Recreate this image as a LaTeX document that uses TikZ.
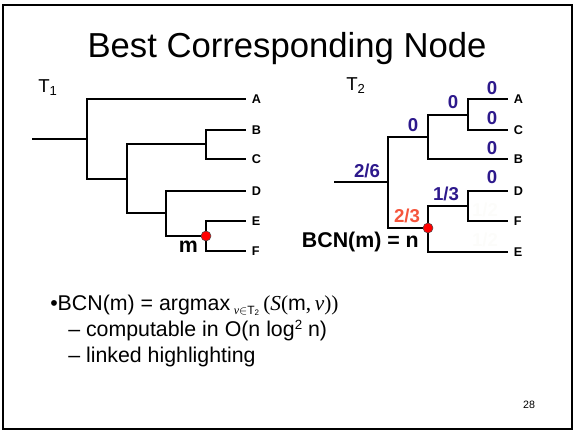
\documentclass[tikz,border=0pt]{standalone}
\usepackage{fontspec}
\setmainfont{Liberation Sans}
\newfontfamily\tmsfont{Liberation Serif}
\usetikzlibrary{positioning}
\definecolor{wtblue}{RGB}{45,25,140}
\definecolor{wtred}{RGB}{245,85,60}
\definecolor{wtfaint}{RGB}{252,252,250}
\tikzset{
  branch/.style={line width=1.5pt, line cap=rect},
  leaf/.style={font=\bfseries\fontsize{9.5}{11}\selectfont, anchor=west,
               inner xsep=5pt, inner ysep=1pt},
  wt/.style={font=\bfseries\fontsize{14}{16}\selectfont, text=wtblue,
             inner sep=1pt},
  wtbest/.style={wt, text=wtred},
  wtghost/.style={wt, text=wtfaint},
  dot/.style={circle, fill=red, draw=black!70, line width=0.4pt,
              minimum size=7.5pt, inner sep=0pt},
  treelabel/.style={font=\fontsize{14}{16}\selectfont, inner sep=0pt},
  bigbold/.style={font=\bfseries\fontsize{16}{18}\selectfont, inner sep=0pt},
  txt/.style={font=\fontsize{16}{19}\selectfont, inner sep=0pt,
              anchor=base west},
}

\begin{document}
\begin{tikzpicture}[x=0.75pt, y=-0.75pt]
  \useasboundingbox (0,0) rectangle (574,431);
  \draw[line width=1.5pt] (3,5) rectangle (572,429);

  % Title
  \node[font=\fontsize{26}{30}\selectfont, anchor=base, inner sep=0pt]
    (title) at (287,58) {Best Corresponding Node};

  % Tree T1
  \node[treelabel] (t1) at (48,88) {T\textsubscript{1}};
  \coordinate (s1) at (33,139);
  \coordinate (u1) at (87,139);
  \coordinate (u2) at (127,179);
  \coordinate (u3) at (206,144);
  \coordinate (u4) at (166,213);
  \coordinate (m) at (206,236);
  \node[leaf] (A1) at (245,99) {A};
  \node[leaf] (B1) at (245,130) {B};
  \node[leaf] (C1) at (245,159) {C};
  \node[leaf] (D1) at (245,191) {D};
  \node[leaf] (E1) at (245,221) {E};
  \node[leaf] (F1) at (245,251) {F};

  \draw[branch] (s1) -- (u1);
  \draw[branch] (u1) |- (A1.west);
  \draw[branch] (u1) |- (u2);
  \draw[branch] (u2) |- (u3);
  \draw[branch] (u2) |- (u4);
  \draw[branch] (u3) |- (B1.west);
  \draw[branch] (u3) |- (C1.west);
  \draw[branch] (u4) |- (D1.west);
  \draw[branch] (u4) |- (m);
  \draw[branch] (m) |- (E1.west);
  \draw[branch] (m) |- (F1.west);
  \node[dot] (mdot) at (m) {};
  \node[bigbold, anchor=east] (mlab) at (198,247) {m};

  % Tree T2
  \node[treelabel] (t2) at (356,86) {T\textsubscript{2}};
  \coordinate (s2) at (335,182);
  \coordinate (v1) at (388,182);
  \coordinate (v2) at (428,137);
  \coordinate (v3) at (468,115);
  \coordinate (n) at (428,228);
  \coordinate (v4) at (468,206);
  \node[leaf] (A2) at (507,99) {A};
  \node[leaf] (C2) at (507,130) {C};
  \node[leaf] (B2) at (507,159) {B};
  \node[leaf] (D2) at (507,191) {D};
  \node[leaf] (F2) at (507,221) {F};
  \node[leaf] (E2) at (507,252) {E};

  \draw[branch] (s2) -- (v1);
  \draw[branch] (v1) |- (v2);
  \draw[branch] (v1) |- (n);
  \draw[branch] (v2) |- (v3);
  \draw[branch] (v2) |- (B2.west);
  \draw[branch] (v3) |- (A2.west);
  \draw[branch] (v3) |- (C2.west);
  \draw[branch] (n) |- (v4);
  \draw[branch] (n) |- (E2.west);
  \draw[branch] (v4) |- (D2.west);
  \draw[branch] (v4) |- (F2.west);
  \node[dot] (ndot) at (n) {};

  % Scores
  \node[wt] (wA) at (492,88) {0};
  \node[wt] (wC) at (492,118) {0};
  \node[wt] (wB) at (492,148) {0};
  \node[wt] (wD) at (492,177) {0};
  \node[wt] (wv3) at (453,102) {0};
  \node[wt] (wv2) at (413,125) {0};
  \node[wt] (wroot) at (367,171) {2/6};
  \node[wt] (wv4) at (446,194) {1/3};
  \node[wtbest] (wn) at (407,216) {2/3};
  \node[wtghost] (wF) at (485,210) {1/2};
  \node[wtghost] (wE) at (485,240) {1/2};
  \node[bigbold, anchor=east] (bcn) at (419,242) {BCN(m) = n};

  % Bullets
  \node[txt] (l1) at (50,310) {\textbullet BCN(m) = argmax\,\raisebox{-3pt}{\fontsize{9}{9}\selectfont
    {\tmsfont\itshape ν}$\in$T\textsubscript{2}}\,{\tmsfont(\textit{S}(}m{\tmsfont,\,\textit{ν}))}};
  \node[txt] (l2) at (68,336) {– computable in O(n log\raisebox{5pt}{\fontsize{10}{10}\selectfont 2} n)};
  \node[txt] (l3) at (68,362) {– linked highlighting};
  \node[font=\fontsize{8}{9}\selectfont, inner sep=0pt] (pg) at (529,405) {28};
\end{tikzpicture}
\end{document}
